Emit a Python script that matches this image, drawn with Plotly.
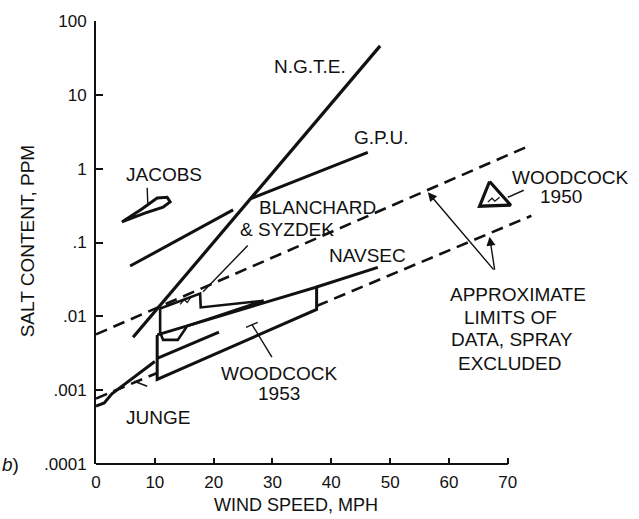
import numpy as np
import plotly.graph_objects as go

# ---- data: wind speed (mph) vs. salt content (ppm) ----
ngte_mph = [6.3, 48.3]
ngte_ppm = [0.0052, 46]

gpu_mph = [5.8, 23.3, None, 26.2, 46.2]
gpu_ppm = [0.048, 0.277, None, 0.39, 1.66]

jacobs_mph = [4.4, 7.8, 10.4, 12.1, 12.6, 11.4, 8.3, 4.4]
jacobs_ppm = [0.19, 0.285, 0.40, 0.41, 0.355, 0.30, 0.25, 0.19]

# approximate limits of data (spray excluded); the lower limit is hidden behind
# the Woodcock 1953 region
upper_limit_mph = [0, 74]
upper_limit_ppm = [0.0057, 2.1]
lower_limit_mph = [0, 10.4, None, 37.5, 74]
lower_limit_ppm = [0.00077, 0.00171, None, 0.0138, 0.23]

junge_mph = [0, 1.4, 2.7, 5.8, 10.0]
junge_ppm = [0.00061, 0.00067, 0.00089, 0.00136, 0.00244]

woodcock53_mph = [10.4, 10.4, 37.5, 37.5, 10.4]
woodcock53_ppm = [0.0056, 0.0014, 0.0124, 0.025, 0.0056]
woodcock53_inner_mph = [10.4, 20.9]
woodcock53_inner_ppm = [0.0027, 0.0061]

navsec_mph = [37.5, 47.9]
navsec_ppm = [0.025, 0.046]

blanchard_mph = [10.9, 17.7, 17.8, 28.5, 15.5, 13.9, 11.4, 10.9, 10.9]
blanchard_ppm = [0.0128, 0.0203, 0.0132, 0.0163, 0.0074, 0.0048, 0.0048, 0.0061, 0.0128]

woodcock50_mph = [66.9, 65.2, 70.5, 66.9]
woodcock50_ppm = [0.67, 0.31, 0.32, 0.67]

# thin leader lines and scribbles
leader_mph = [8.7, 8.8, None, 25.8, 18.2, None, 26.5, 29.9, None, 25.5, 27.5,
              None, 70.0, 72.7, None, 6.5, 8.7]
leader_ppm = [0.55, 0.34, None, 0.091, 0.0216, None, 0.0078, 0.0028, None, 0.0071, 0.0083,
              None, 0.41, 0.51, None, 0.00132, 0.00113]
scribble_mph = [14.3, 15.0, 15.5, 16.1, None, 66.6, 67.3, 67.8, 68.6]
scribble_ppm = [0.0145, 0.0169, 0.0154, 0.0179, None, 0.352, 0.398, 0.363, 0.41]

# "approximate limits" arrows: common tail and the two heads
arrow_tail = (67.8, 0.041)
arrow_heads_mph = [56.4, 66.9]
arrow_heads_ppm = [0.48, 0.12]

x_ticks = [0, 10, 20, 30, 40, 50, 60, 70]
y_ticks = [0.0001, 0.001, 0.01, 0.1, 1, 10, 100]
y_ticktext = [".0001", ".001", ".01", ".1", "1", "10", "100"]

# text labels: (text, mph, ppm, xanchor)
labels = [
    ("N.G.T.E.", 36.4, 24.4, "center"),
    ("G.P.U.", 48.6, 2.67, "center"),
    ("JACOBS", 11.55, 0.83, "center"),
    ("BLANCHARD", 37.7, 0.30, "center"),
    ("& SYZDEK", 32.4, 0.152, "center"),
    ("NAVSEC", 46.2, 0.067, "center"),
    ("WOODCOCK", 70.3, 0.759, "left"),
    ("1950", 75.1, 0.424, "left"),
    ("APPROXIMATE", 71.7, 0.0196, "center"),
    ("LIMITS OF", 70.5, 0.0097, "center"),
    ("DATA, SPRAY", 70.7, 0.0048, "center"),
    ("EXCLUDED", 70.3, 0.0023, "center"),
    ("WOODCOCK", 31.1, 0.00169, "center"),
    ("1953", 31.1, 0.00089, "center"),
    ("JUNGE", 10.5, 0.00042, "center"),
]

FONT = "Liberation Sans, Arial, sans-serif"
INK = "#111111"

fig = go.Figure()


def add_line(x, y, width=3.0, dash="solid"):
    fig.add_trace(go.Scatter(
        x=x, y=y, mode="lines", showlegend=False, hoverinfo="skip",
        line=dict(color=INK, width=width, dash=dash), connectgaps=False,
    ))


add_line(ngte_mph, ngte_ppm, 3.2)
add_line(gpu_mph, gpu_ppm, 3.0)
add_line(jacobs_mph, jacobs_ppm, 3.0)
add_line(upper_limit_mph, upper_limit_ppm, 2.6, "12px,7px")
add_line(lower_limit_mph, lower_limit_ppm, 2.6, "12px,7px")
add_line(junge_mph, junge_ppm, 3.0)
add_line(woodcock53_mph, woodcock53_ppm, 3.0)
add_line(woodcock53_inner_mph, woodcock53_inner_ppm, 3.0)
add_line(navsec_mph, navsec_ppm, 3.0)
add_line(blanchard_mph, blanchard_ppm, 2.6)
add_line(woodcock50_mph, woodcock50_ppm, 3.2)
add_line(leader_mph, leader_ppm, 1.4)
add_line(scribble_mph, scribble_ppm, 1.2)

annotations = []
for text, mx, py, anchor in labels:
    annotations.append(dict(
        text=text, x=mx, y=np.log10(py), xref="x", yref="y",
        xanchor=anchor, yanchor="middle", showarrow=False,
        font=dict(family=FONT, size=19, color=INK),
    ))

for hx, hy in zip(arrow_heads_mph, arrow_heads_ppm):
    annotations.append(dict(
        x=hx, y=np.log10(hy), ax=arrow_tail[0], ay=np.log10(arrow_tail[1]),
        xref="x", yref="y", axref="x", ayref="y", text="",
        showarrow=True, arrowhead=2, arrowsize=1.3, arrowwidth=1.4,
        arrowcolor=INK, standoff=0,
    ))

# axis titles and panel tag
annotations.append(dict(
    text="WIND SPEED, MPH", x=34.0, y=-0.093, xref="x", yref="paper",
    xanchor="center", yanchor="middle", showarrow=False,
    font=dict(family=FONT, size=18, color=INK),
))
annotations.append(dict(
    text="SALT CONTENT, PPM", x=-0.152, y=0.503, xref="paper", yref="paper",
    xanchor="center", yanchor="middle", showarrow=False, textangle=-90,
    font=dict(family=FONT, size=19, color=INK),
))
annotations.append(dict(
    text="<i>b</i>)", x=-0.212, y=0.0, xref="paper", yref="paper",
    xanchor="left", yanchor="middle", showarrow=False,
    font=dict(family=FONT, size=19, color=INK),
))

fig.update_layout(
    width=639, height=519,
    margin=dict(l=96, r=90, t=14, b=55, pad=0),
    paper_bgcolor="white", plot_bgcolor="white",
    font=dict(family=FONT, color=INK),
    annotations=annotations,
    shapes=[dict(type="line", xref="x", yref="paper", x0=0, x1=70, y0=0, y1=0,
                 line=dict(color=INK, width=2))],
    xaxis=dict(
        range=[0, 77], showline=False, showgrid=False, zeroline=False,
        tickmode="array", tickvals=x_ticks, ticks="inside", ticklen=6,
        tickwidth=1.6, tickcolor=INK, tickfont=dict(size=17, color=INK),
        ticklabelstandoff=6,
    ),
    yaxis=dict(
        type="log", range=[-4, 2], showline=True, linewidth=2, linecolor=INK,
        showgrid=False, zeroline=False, tickmode="array", tickvals=y_ticks,
        ticktext=y_ticktext, ticks="inside", ticklen=7, tickwidth=1.6,
        tickcolor=INK, tickfont=dict(size=17, color=INK), ticklabelstandoff=4,
    ),
)

fig.write_html("out.html")
